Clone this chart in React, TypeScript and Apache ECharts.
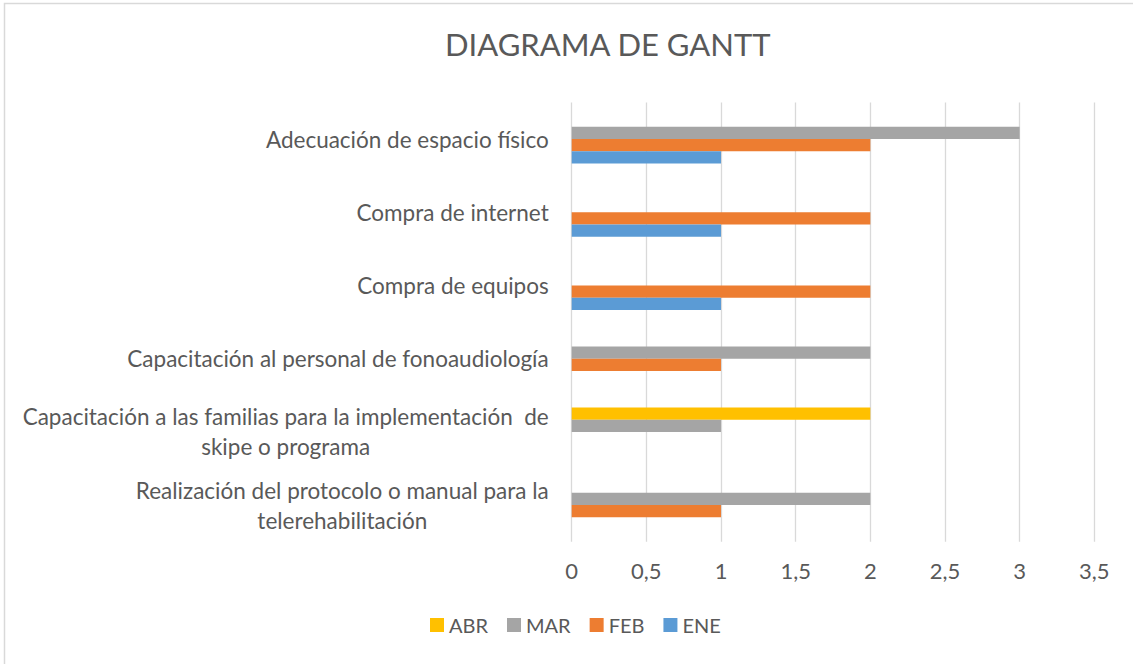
import React, { useEffect, useRef } from "react";
import * as echarts from "echarts";

const categories = [
  "Realización del protocolo o manual para la\ntelerehabilitación",
  "Capacitación a las familias para la implementación  de\nskipe o programa",
  "Capacitación al personal de fonoaudiología",
  "Compra de equipos",
  "Compra de internet",
  "Adecuación de espacio físico",
];
const ABR = [null, 2, null, null, null, null];
const MAR = [2, 1, 2, null, null, 3];
const FEB = [1, null, 1, 2, 2, 2];
const ENE = [null, null, null, 1, 1, 1];
const xTicks = { min: 0, max: 3.5, interval: 0.5 };

const FONT = "Lato";
const TEXT = "#595959";

export default function App() {
  const ref = useRef<HTMLDivElement>(null);
  useEffect(() => {
    document.body.style.margin = "0";
    const chart = echarts.init(ref.current!, null, { renderer: "svg" });
    const mk = (name: string, data: any[], color: string) => ({
      name,
      type: "bar",
      data,
      itemStyle: { color },
      barGap: "0%",
      barCategoryGap: "33%",
    });
    chart.setOption({
      animation: false,
      textStyle: { fontFamily: FONT },
      title: {
        text: "DIAGRAMA DE GANTT",
        left: 445,
        top: 28,
        padding: 0,
        textStyle: { fontFamily: FONT, fontSize: 31, fontWeight: "normal", color: TEXT },
      },
      graphic: [
        {
          type: "rect",
          shape: { x: 4.5, y: 3.5, width: 1300, height: 900 },
          style: { fill: "none", stroke: "#d9d9d9", lineWidth: 1.5 },
          silent: true,
        },
      ],
      legend: {
        left: 430,
        top: 615,
        padding: 0,
        icon: "rect",
        itemWidth: 14,
        itemHeight: 14,
        itemGap: 19,
        textStyle: { fontFamily: FONT, fontSize: 20, color: TEXT },
        data: ["ABR", "MAR", "FEB", "ENE"],
      },
      grid: { left: 571.7, right: 38.7, top: 102.5, bottom: 122.3, containLabel: false },
      xAxis: {
        type: "value",
        min: xTicks.min,
        max: xTicks.max,
        interval: xTicks.interval,
        axisLine: { show: false },
        axisTick: { show: false },
        splitLine: { lineStyle: { color: "#d9d9d9", width: 1.3 } },
        axisLabel: {
          margin: 18,
          fontFamily: FONT,
          fontSize: 22,
          color: TEXT,
          formatter: (v: number) => String(v).replace(".", ","),
        },
      },
      yAxis: {
        type: "category",
        data: categories,
        axisLine: { show: false },
        axisTick: { show: false },
        axisLabel: {
          margin: 23,
          formatter: (v: string) =>
            v
              .split("\n")
              .map((l) => `{c|${l}}`)
              .join("\n"),
          rich: {
            c: { align: "center", fontFamily: FONT, fontSize: 22.5, color: TEXT, lineHeight: 30 },
          },
        },
      },
      series: [
        mk("ABR", ABR, "#FFC000"),
        mk("MAR", MAR, "#A5A5A5"),
        mk("FEB", FEB, "#ED7D31"),
        mk("ENE", ENE, "#5B9BD5"),
      ],
    });
    return () => chart.dispose();
  }, []);
  return <div ref={ref} style={{ width: 1133, height: 664 }} />;
}
